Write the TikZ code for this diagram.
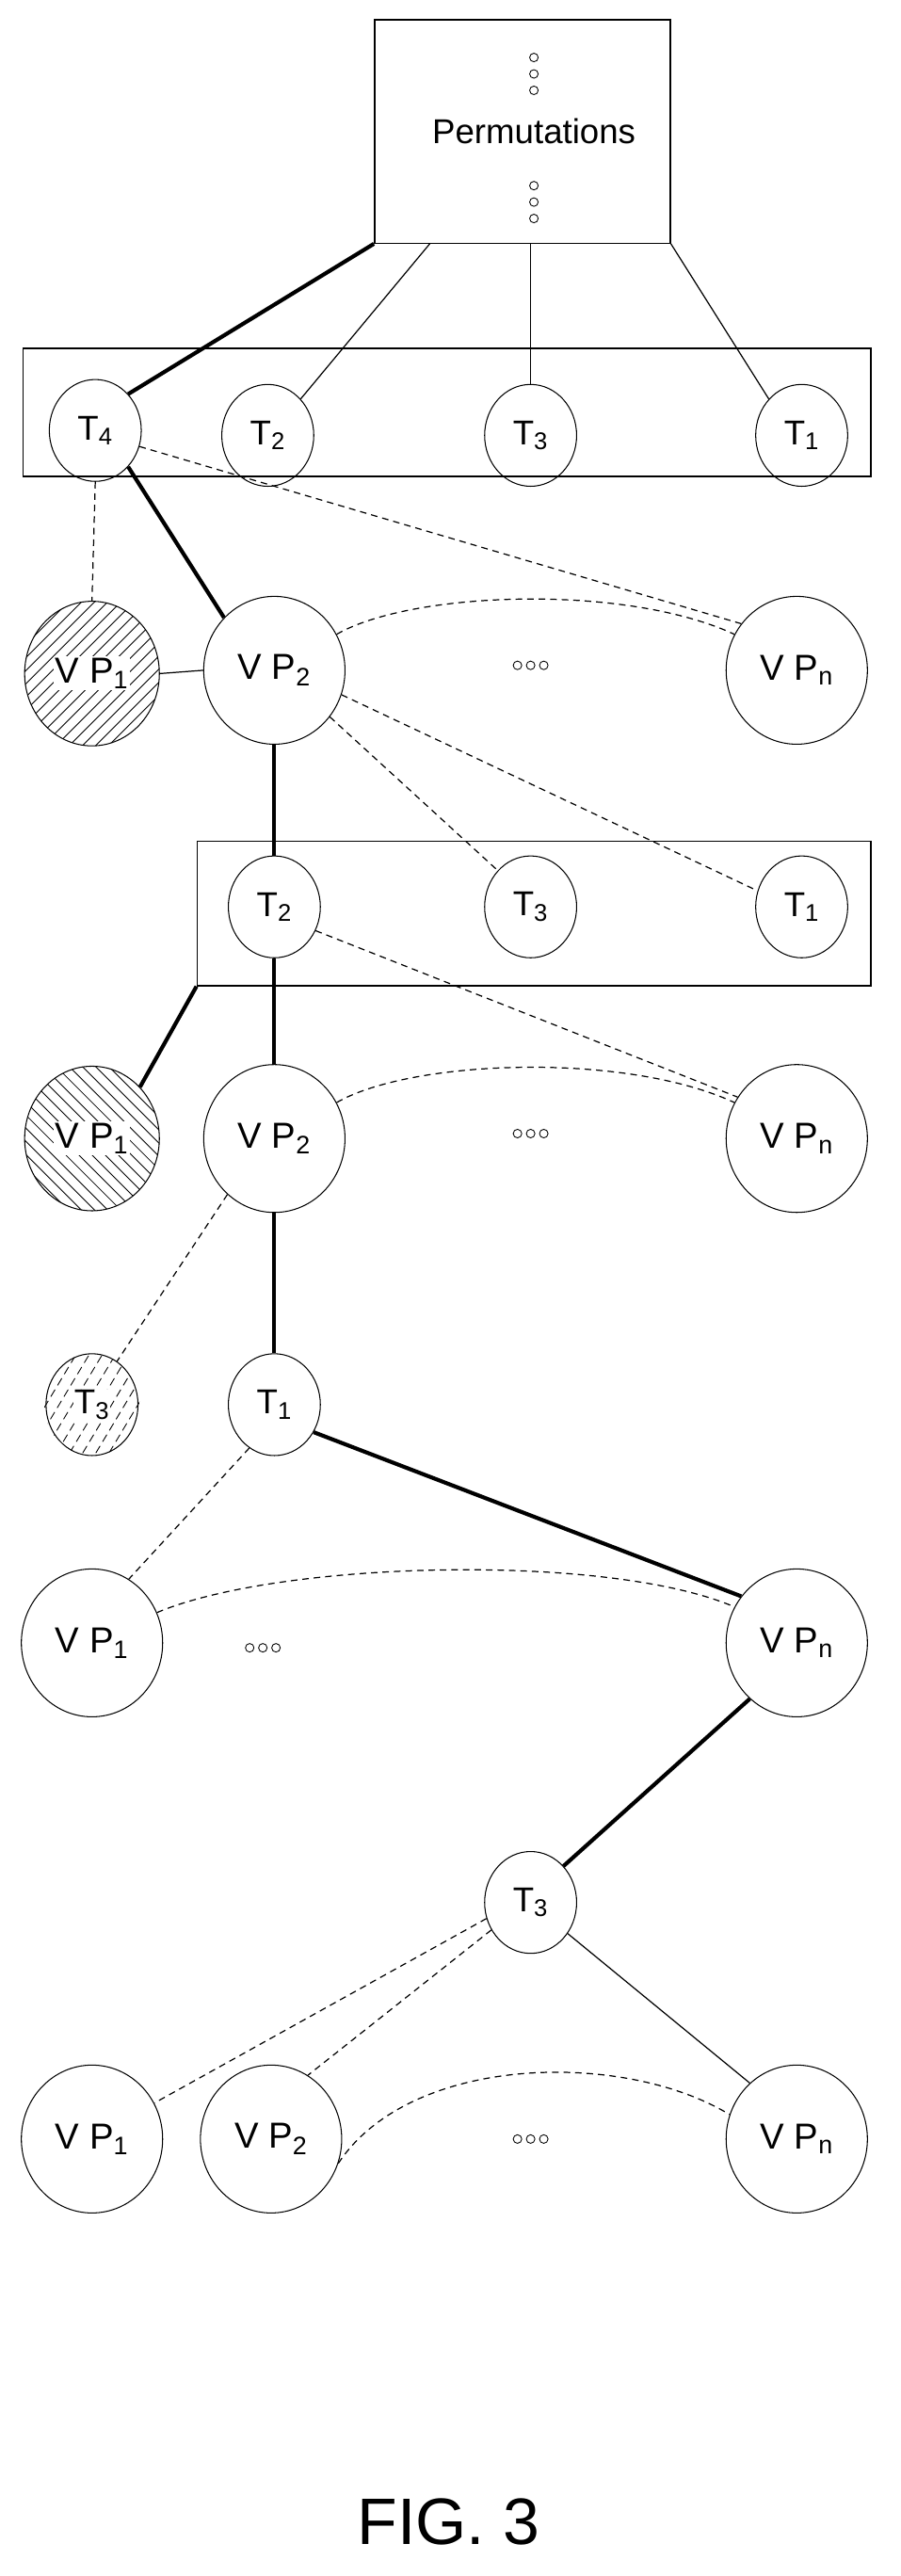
\documentclass[tikz,border=0pt]{standalone}
\usepackage{fontspec}
\setmainfont{Liberation Sans}
\usetikzlibrary{shapes.geometric,calc}
\begin{document}
\begin{tikzpicture}[x=1pt,y=1pt,
  tn/.style={draw,ellipse,line width=0.6pt,minimum width=56pt,minimum height=62pt,inner sep=0pt,font=\fontsize{21}{21}\selectfont},
  vp/.style={draw,ellipse,line width=0.6pt,minimum width=86pt,minimum height=90pt,inner sep=0pt,font=\fontsize{22}{22}\selectfont},
  thk/.style={line width=2.4pt},
  thn/.style={line width=0.7pt},
  dsh/.style={line width=0.7pt,dash pattern=on 4pt off 3pt},
  box/.style={draw,line width=0.8pt,inner sep=0pt}]
\useasboundingbox (0,0) rectangle (548,-1568);
% top box
\node[box,minimum width=180pt,minimum height=136pt] (perm) at (318,-80) {};
\node[font=\fontsize{21}{21}\selectfont] (permt) at (325,-80) {Permutations};
\foreach \yy in {-35,-45,-55,-113,-123,-133}{\draw[line width=0.5pt] (325,\yy) circle (2.6);}
% row box 1
\node[box,minimum width=516pt,minimum height=78pt] (box1) at (272,-251) {};
\node[tn] (t4) at (58,-262) {T\textsubscript{4}};
\node[tn] (t2) at (163,-265) {T\textsubscript{2}};
\node[tn] (t3) at (323,-265) {T\textsubscript{3}};
\node[tn] (t1) at (488,-265) {T\textsubscript{1}};
\draw[thk] (perm.south west) -- (t4.north east);
\draw[thn] ($(perm.south west)+(34,0)$) coordinate (p2) -- (t2.north east);
\draw[thn] (perm.south -| t3) -- (t3.north);
\draw[thn] (perm.south east) -- (t1.north west);
% row 1 VP
\begin{scope}
\clip (56,-410) ellipse (41 and 44);
\foreach \k in {-130,-122,...,130}{\draw[line width=0.5pt] (56+\k-50,-460) -- (56+\k+50,-360);}
\end{scope}
\node[vp,minimum width=82pt,minimum height=88pt] (a1) at (56,-410) {};
\node[fill=white,inner sep=1pt,font=\fontsize{22}{22}\selectfont] at (56,-410) {V P\textsubscript{1}};
\node[vp] (a2) at (167,-408) {V P\textsubscript{2}};
\node[vp] (an) at (485,-408) {V P\textsubscript{n}};
\foreach \d in {-8,0,8}{\draw[line width=0.5pt] (323+\d,-405) circle (2.6);}
\draw[dsh] (t4.south) -- (a1.north);
\draw[thk] (t4.south east) -- (a2.north west);
\draw[dsh] (t4.-20) -- (an.140);
\draw[thn] (a1.east) -- (a2.west);
\draw[dsh] (a2.30) .. controls (250,-360) and (380,-355) .. (an.150);
% row box 2
\node[box,minimum width=410pt,minimum height=88pt] (box2) at (325,-556) {};
\node[tn] (u2) at (167,-552) {T\textsubscript{2}};
\node[tn] (u3) at (323,-552) {T\textsubscript{3}};
\node[tn] (u1) at (488,-552) {T\textsubscript{1}};
\draw[thk] (a2.south) -- (u2.north);
\draw[dsh] (a2.-40) -- (u3.north west);
\draw[dsh] (a2.-20) -- (u1.160);
% row 3
\begin{scope}
\clip (56,-693) ellipse (41 and 44);
\foreach \k in {-130,-122,...,130}{\draw[line width=0.5pt] (56+\k+50,-743) -- (56+\k-50,-643);}
\end{scope}
\node[vp,minimum width=82pt,minimum height=88pt] (b1) at (56,-693) {};
\node[fill=white,inner sep=1pt,font=\fontsize{22}{22}\selectfont] at (56,-693) {V P\textsubscript{1}};
\node[vp] (b2) at (167,-693) {V P\textsubscript{2}};
\node[vp] (bn) at (485,-693) {V P\textsubscript{n}};
\foreach \d in {-8,0,8}{\draw[line width=0.5pt] (323+\d,-690) circle (2.6);}
\draw[thk] (box2.south west) -- (b1.north east);
\draw[thk] (u2.south) -- (b2.north);
\draw[dsh] (u2.-30) -- (bn.145);
\draw[dsh] (b2.30) .. controls (250,-645) and (380,-640) .. (bn.150);
% row 4
\begin{scope}
\clip (56,-855) ellipse (29 and 31);
\foreach \k in {-100,-92,...,100}{\draw[line width=0.5pt,dash pattern=on 5pt off 3pt] (56+\k-30,-905) -- (56+\k+30,-805);}
\end{scope}
\node[tn] (c3) at (56,-855) {};
\node[fill=white,inner sep=0.5pt,font=\fontsize{21}{21}\selectfont] at (56,-855) {T\textsubscript{3}};
\node[tn] (c1) at (167,-855) {T\textsubscript{1}};
\draw[dsh] (b2.-130) -- (c3.60);
\draw[thk] (b2.south) -- (c1.north);
% row 5
\node[vp] (d1) at (56,-1000) {V P\textsubscript{1}};
\node[vp] (dn) at (485,-1000) {V P\textsubscript{n}};
\foreach \d in {-8,0,8}{\draw[line width=0.5pt] (160+\d,-1003) circle (2.6);}
\draw[dsh] (c1.-120) -- (d1.60);
\draw[thk] (c1.-35) -- (dn.140);
\draw[dsh] (d1.25) .. controls (170,-950) and (370,-945) .. (dn.150);
% row 6
\node[tn] (e3) at (323,-1158) {T\textsubscript{3}};
\draw[thk] (dn.-130) -- (e3.north east);
\node[vp] (f1) at (56,-1302) {V P\textsubscript{1}};
\node[vp] (f2) at (165,-1302) {V P\textsubscript{2}};
\node[vp] (fn) at (485,-1302) {V P\textsubscript{n}};
\foreach \d in {-8,0,8}{\draw[line width=0.5pt] (323+\d,-1302) circle (2.6);}
\draw[dsh] (e3.-160) -- (f1.30);
\draw[dsh] (e3.-145) -- (f2.60);
\draw[thn] (e3.-40) -- (fn.130);
\draw[dsh] (f2.-20) .. controls (250,-1250) and (380,-1248) .. (fn.160);
\node[font=\fontsize{40}{40}\selectfont] (fig) at (273,-1535) {FIG. 3};
\end{tikzpicture}
\end{document}
